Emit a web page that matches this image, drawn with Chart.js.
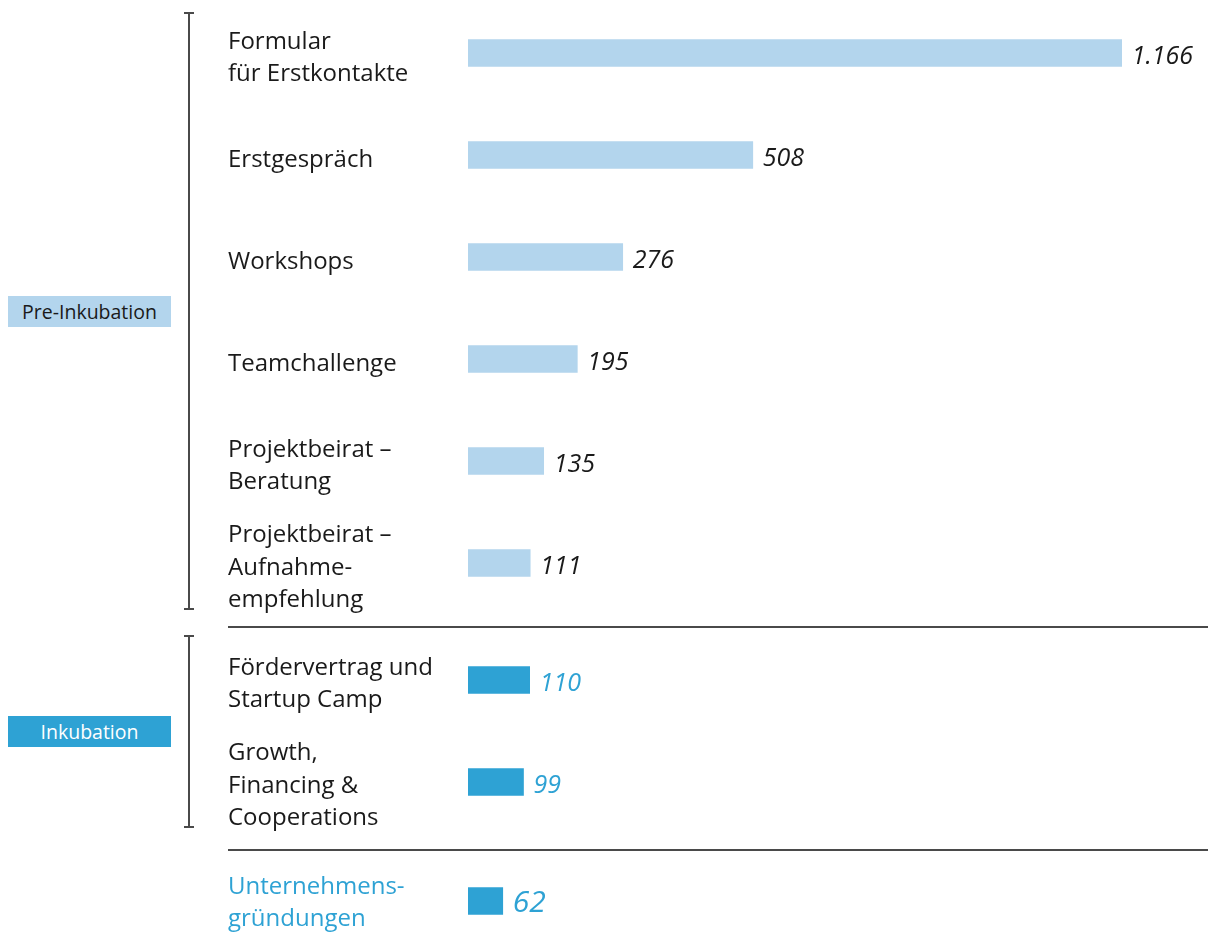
<!DOCTYPE html>
<html>
<head>
<meta charset="utf-8">
<script src="https://cdn.jsdelivr.net/npm/chart.js@4.4.1/dist/chart.umd.min.js"></script>
<style>
  html, body { margin: 0; padding: 0; background: #ffffff; }
  #wrap { position: relative; width: 1210px; height: 933px; overflow: hidden; font-family: "Open Sans", sans-serif; }
  .cv { position: absolute; left: 0; width: 1210px; }
  .grp { position: absolute; left: 8px; width: 163px; height: 31px; line-height: 31px; text-align: center; font-size: 19.5px; }
  .vline { position: absolute; width: 2px; background: #4a4a4a; }
  .hline { position: absolute; height: 2px; background: #4a4a4a; }
</style>
</head>
<body>
<div id="wrap">
  <div class="grp" style="top:296px; background:#b3d5ed; color:#1a1a1a;">Pre-Inkubation</div>
  <div class="grp" style="top:716px; background:#2ea2d4; color:#ffffff;">Inkubation</div>

  <div class="vline" style="left:188px; top:12px; height:598px;"></div>
  <div class="hline" style="left:184px; top:12px; width:10px;"></div>
  <div class="hline" style="left:184px; top:608px; width:10px;"></div>

  <div class="vline" style="left:188px; top:635px; height:193px;"></div>
  <div class="hline" style="left:184px; top:635px; width:10px;"></div>
  <div class="hline" style="left:184px; top:826px; width:10px;"></div>

  <div class="hline" style="left:228px; top:626px; width:980px;"></div>
  <div class="hline" style="left:228px; top:849px; width:980px;"></div>

  <div class="cv" style="top:2px; height:612px;"><canvas id="c1"></canvas></div>
  <div class="cv" style="top:629px; height:204px;"><canvas id="c2"></canvas></div>
  <div class="cv" style="top:869px; height:64px;"><canvas id="c3"></canvas></div>
</div>
<script>
// ---- data ----
const preLabels = [
  ["Formular", "für Erstkontakte"],
  "Erstgespräch",
  "Workshops",
  "Teamchallenge",
  ["Projektbeirat –", "Beratung"],
  ["Projektbeirat –", "Aufnahme-", "empfehlung"]
];
const preValues = [1166, 508, 276, 195, 135, 111];

const incLabels = [
  ["Fördervertrag und", "Startup Camp"],
  ["Growth,", "Financing &", "Cooperations"]
];
const incValues = [110, 99];

const foundLabels = [["Unternehmens-", "gründungen"]];
const foundValues = [62];

const xMax = 1320;

// ---- helpers ----
function fmtDe(v) {
  return String(v).replace(/\B(?=(\d{3})+(?!\d))/g, ".");
}

const valueLabelPlugin = {
  id: 'valueLabels',
  afterDatasetsDraw(chart, args, opts) {
    const ctx = chart.ctx;
    const meta = chart.getDatasetMeta(0);
    const data = chart.data.datasets[0].data;
    ctx.save();
    ctx.font = 'italic ' + opts.size + 'px "Open Sans", sans-serif';
    ctx.fillStyle = opts.color;
    ctx.textAlign = 'left';
    ctx.textBaseline = 'middle';
    meta.data.forEach((bar, i) => {
      ctx.fillText(fmtDe(data[i]), bar.x + 10, bar.y + opts.dy);
    });
    ctx.restore();
  }
};

function makeChart(id, labels, values, barColor, labelColor, valueColor, valueSize, valueDy, labelDy) {
  return new Chart(document.getElementById(id), {
    type: 'bar',
    data: {
      labels: labels,
      datasets: [{
        data: values,
        backgroundColor: barColor,
        borderWidth: 0,
        barThickness: 27
      }]
    },
    options: {
      indexAxis: 'y',
      responsive: true,
      maintainAspectRatio: false,
      animation: false,
      layout: { padding: { left: 228, right: 2, top: 0, bottom: 0 } },
      plugins: {
        legend: { display: false },
        tooltip: { enabled: false },
        valueLabels: { color: valueColor, size: valueSize, dy: valueDy }
      },
      scales: {
        x: {
          display: false,
          min: 0,
          max: xMax
        },
        y: {
          grid: { display: false, drawTicks: false },
          border: { display: false },
          afterFit(scale) {
            scale.width = 240;
            scale.paddingTop = 0;
            scale.paddingBottom = 0;
          },
          ticks: {
            crossAlign: 'far',
            color: labelColor,
            padding: 0,
            labelOffset: labelDy,
            font: { family: '"Open Sans", sans-serif', size: 24, lineHeight: 1.35 }
          }
        }
      }
    },
    plugins: [valueLabelPlugin]
  });
}

makeChart('c1', preLabels, preValues, '#b3d5ed', '#1a1a1a', '#1a1a1a', 25, 4, 5);
makeChart('c2', incLabels, incValues, '#2ea2d4', '#1a1a1a', '#2ea2d4', 25, 4, 4);
makeChart('c3', foundLabels, foundValues, '#2ea2d4', '#2ea2d4', '#2ea2d4', 30, 2, 2);
</script>
</body>
</html>
